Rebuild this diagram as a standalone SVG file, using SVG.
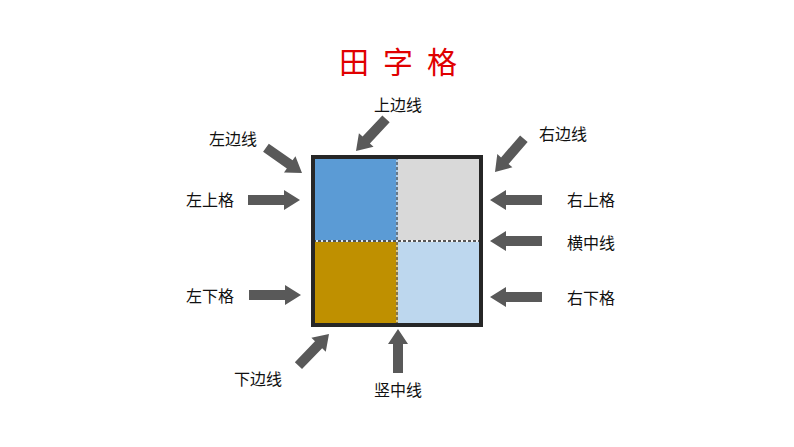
<svg xmlns="http://www.w3.org/2000/svg" width="794" height="447" viewBox="0 0 794 447">
<style>
text{font-family:"Noto Sans CJK SC",sans-serif;font-size:16px;fill:#111;text-anchor:middle;dominant-baseline:central}
.t{font-size:30px;fill:#e00000;letter-spacing:14px}
.ar{fill:#595959}
</style>
<defs>
<polygon id="a" points="-52,-5 -16,-5 -16,-10 0,0 -16,10 -16,5 -52,5"/>
<polygon id="d" points="-44,-5 -15,-5 -15,-10 0,0 -15,10 -15,5 -44,5"/>
</defs>
<rect width="794" height="447" fill="#fff"/>
<text class="t" x="405" y="60">田字格</text>
<g id="grid">
<rect x="313" y="157" width="85" height="85" fill="#5b9bd5"/>
<rect x="398" y="157" width="83" height="85" fill="#d9d9d9"/>
<rect x="313" y="242" width="85" height="83" fill="#bf9000"/>
<rect x="398" y="242" width="83" height="83" fill="#bdd7ee"/>
<line x1="397" y1="157" x2="397" y2="325" stroke="#fff" stroke-width="1"/>
<line x1="397" y1="157" x2="397" y2="325" stroke="#222" stroke-width="1" stroke-dasharray="3,2"/>
<line x1="313" y1="241" x2="481" y2="241" stroke="#fff" stroke-width="1.5"/>
<line x1="313" y1="241" x2="481" y2="241" stroke="#222" stroke-width="1.5" stroke-dasharray="3,2"/>
<rect x="313" y="157" width="168" height="168" fill="none" stroke="#262626" stroke-width="4"/>
</g>
<g id="connectors" class="ar">
<use href="#a" transform="translate(300,200)"/>
<use href="#a" transform="translate(301,295)"/>
<use href="#a" transform="translate(490,200) rotate(180)"/>
<use href="#a" transform="translate(490,241) rotate(180)"/>
<use href="#a" transform="translate(490,297) rotate(180)"/>
<use href="#d" transform="translate(356,151) rotate(133)"/>
<use href="#d" transform="translate(302,173) rotate(35)"/>
<use href="#d" transform="translate(495,172) rotate(131)"/>
<use href="#d" transform="translate(329,334) rotate(-46)"/>
<use href="#d" transform="translate(398,329) rotate(-90)"/>
</g>
<g id="labels">
<text x="398" y="104">上边线</text>
<text x="233" y="138">左边线</text>
<text x="563" y="133">右边线</text>
<text x="210" y="199">左上格</text>
<text x="210" y="295">左下格</text>
<text x="591" y="199">右上格</text>
<text x="591" y="242">横中线</text>
<text x="591" y="297">右下格</text>
<text x="258" y="378">下边线</text>
<text x="398" y="389">竖中线</text>
</g>
</svg>
